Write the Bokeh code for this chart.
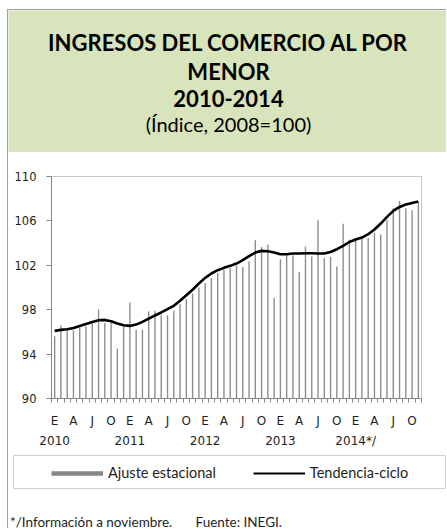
from bokeh.plotting import figure
from bokeh.models import (Range1d, LinearAxis, FixedTicker, ColumnDataSource,
                          Legend, LegendItem, Spacer)
from bokeh.layouts import column, row
from bokeh.embed import file_html
from bokeh.resources import INLINE
from bokeh.core.properties import value

# ---------------- data ----------------
months = list(range(59))  # Jan 2010 .. Nov 2014
ajuste = [95.6, 96.6, 96.15, 96.15, 96.4, 96.5, 96.85, 98.05, 96.8, 96.8, 94.5, 96.5,
          98.65, 96.2, 96.2, 97.87, 97.9, 97.5, 97.5, 97.9, 98.5, 98.95, 99.45, 100.0,
          100.4, 100.85, 101.3, 101.6, 101.75, 101.95, 101.85, 102.35, 104.25, 103.65, 103.85, 99.05,
          102.55, 102.9, 102.9, 101.4, 103.7, 102.8, 106.05, 102.65, 102.75, 101.9, 105.75, 104.3,
          104.25, 104.4, 104.45, 104.95, 104.77, 106.05, 107.15, 107.8, 107.15, 106.95, 107.7]
tendencia = [96.09, 96.18, 96.24, 96.36, 96.54, 96.72, 96.9, 97.05, 97.08, 96.96, 96.75, 96.6,
             96.54, 96.66, 96.9, 97.2, 97.48, 97.75, 98.05, 98.35, 98.8, 99.3, 99.8, 100.36,
             100.87, 101.26, 101.56, 101.77, 101.95, 102.16, 102.46, 102.82, 103.15, 103.3, 103.27, 103.15,
             103.0, 103.0, 103.06, 103.06, 103.09, 103.09, 103.06, 103.06, 103.2, 103.45, 103.75, 104.1,
             104.32, 104.5, 104.8, 105.23, 105.76, 106.36, 106.9, 107.26, 107.48, 107.62, 107.75]
quarter_labels = ["E", "A", "J", "O"]
year_labels = ["2010", "2011", "2012", "2013", "2014*/"]
y_ticks = [90, 94, 98, 102, 106, 110]

title_lines = ["INGRESOS DEL COMERCIO AL POR", "MENOR", "2010-2014"]
subtitle = "(Índice, 2008=100)"
legend_labels = ["Ajuste estacional", "Tendencia-ciclo"]
note_text = "*/Información a noviembre."
source_text = "Fuente: INEGI."

# ---------------- style ----------------
W = 438
GREEN = "#d8e4bc"
AXIS = "#868686"
BAR = "#8c8c8c"
TXT = "#1e1e1e"
NAN = float("nan")

# ---------------- title block ----------------
HA = 142
pA = figure(width=W, height=HA, x_range=Range1d(0, W), y_range=Range1d(HA, 0),
            x_axis_type=None, y_axis_type=None, toolbar_location=None,
            output_backend="svg", min_border=0)
pA.background_fill_color = GREEN
pA.border_fill_color = GREEN
pA.outline_line_color = None
tsrc = ColumnDataSource(dict(x=[220] * 3, y=[32, 60.5, 87.5], t=title_lines))
pA.text(x="x", y="y", text="t", source=tsrc, text_font=value("Lato"),
        text_font_style="bold", text_font_size="22px", text_align="center",
        text_baseline="alphabetic", text_color="black")
pA.text(x=[220], y=[113.5], text=[subtitle], text_font=value("Lato"),
        text_font_size="20px", text_align="center", text_baseline="alphabetic",
        text_color="black")

# ---------------- chart ----------------
pB = figure(width=W, height=303, x_range=Range1d(-0.5, 58.5), y_range=Range1d(90, 110),
            x_axis_type=None, y_axis_type=None, toolbar_location=None,
            output_backend="svg", min_border_left=43, min_border_right=25,
            min_border_top=24, min_border_bottom=57)
pB.outline_line_color = "#c8c8c8"
pB.background_fill_color = "white"
pB.border_fill_color = "white"

src = ColumnDataSource(dict(month=months, ajuste=ajuste, tendencia=tendencia))
pB.vbar(x="month", top="ajuste", bottom=90, width=0.22, source=src,
        fill_color=BAR, line_color=None)
pB.line(x="month", y="tendencia", source=src, line_color="black",
        line_width=2.6, line_join="round")

yax = LinearAxis(ticker=FixedTicker(ticks=y_ticks), major_tick_out=5, major_tick_in=0,
                 minor_tick_out=0, minor_tick_in=0, axis_line_color=AXIS,
                 major_tick_line_color=AXIS, major_label_standoff=10,
                 major_label_text_font="DejaVu Sans", major_label_text_font_size="11.5px",
                 major_label_text_color=TXT)
pB.add_layout(yax, "left")

quarter_ticks = [m for m in months if m % 3 == 0]
boundaries = [m - 0.5 for m in months] + [months[-1] + 0.5]
xax = LinearAxis(ticker=FixedTicker(ticks=quarter_ticks, minor_ticks=boundaries),
                 major_label_overrides={m: quarter_labels[(m % 12) // 3] for m in quarter_ticks},
                 major_tick_out=0, major_tick_in=0, major_tick_line_color=None,
                 minor_tick_out=4, minor_tick_in=0, minor_tick_line_color=AXIS,
                 axis_line_color=AXIS, major_label_standoff=11,
                 major_label_text_font="DejaVu Sans", major_label_text_font_size="12px",
                 major_label_text_color=TXT)
pB.add_layout(xax, "below")

year_ticks = [m for m in months if m % 12 == 0]
xax2 = LinearAxis(ticker=FixedTicker(ticks=year_ticks),
                  major_label_overrides={t: y for t, y in zip(year_ticks, year_labels)},
                  major_tick_out=0, major_tick_in=0, major_tick_line_color=None,
                  minor_tick_line_color=None, axis_line_color=None, major_label_standoff=3,
                  major_label_text_font="DejaVu Sans", major_label_text_font_size="12px",
                  major_label_text_color=TXT)
pB.add_layout(xax2, "below")

# ---------------- legend ----------------
pL = figure(width=433, height=34, x_range=Range1d(0, 1), y_range=Range1d(0, 1),
            x_axis_type=None, y_axis_type=None, toolbar_location=None,
            output_backend="svg", min_border=0)
pL.outline_line_color = "#d0d0d0"
r1 = pL.line(x=[NAN], y=[NAN], line_color="#868686", line_width=4.5)
r2 = pL.line(x=[NAN], y=[NAN], line_color="black", line_width=2)
legend = Legend(items=[LegendItem(label=legend_labels[0], renderers=[r1]),
                       LegendItem(label=legend_labels[1], renderers=[r2])],
                orientation="horizontal", location=(38, 8), padding=0, margin=0,
                border_line_color=None, background_fill_alpha=0,
                label_text_font="Lato", label_text_font_size="14.5px",
                label_text_color=TXT, glyph_width=52, glyph_height=16,
                label_standoff=5, spacing=37)
pL.add_layout(legend)

# ---------------- footnote ----------------
HF = 39
pF = figure(width=W, height=HF, x_range=Range1d(0, W), y_range=Range1d(HF, 0),
            x_axis_type=None, y_axis_type=None, toolbar_location=None,
            output_backend="svg", min_border=0)
pF.outline_line_color = None
pF.text(x=[1.5, 187], y=[32, 32], text=[note_text, source_text], text_font=value("Lato"),
        text_font_size="13.5px", text_baseline="alphabetic", text_color=TXT)

layout = column(row(pA), row(pB), row(Spacer(width=5, height=34), pL), row(pF),
                styles={"border-left": "1px solid #a0a0a0", "border-top": "1px solid #a0a0a0",
                        "margin-left": "7px", "margin-top": "9px"})

open("out.html", "w").write(file_html(layout, INLINE))
